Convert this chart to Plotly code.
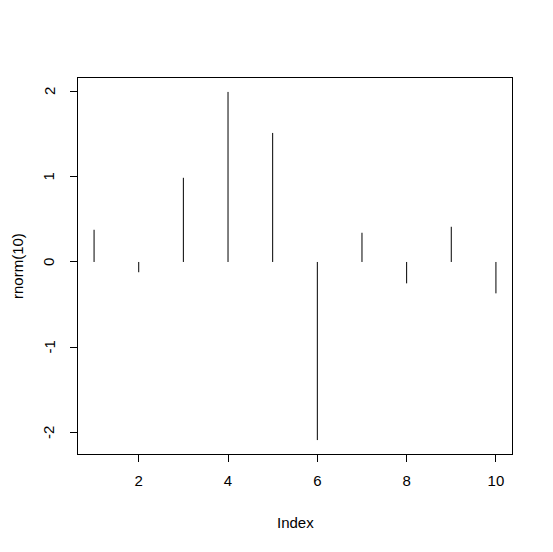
import plotly.graph_objects as go

index = list(range(1, 11))
values = [0.377, -0.12, 0.985, 1.99, 1.51, -2.084, 0.342, -0.25, 0.412, -0.367]
x_ticks = [2, 4, 6, 8, 10]
y_ticks = [-2, -1, 0, 1, 2]

xs, ys = [], []
for i, v in zip(index, values):
    xs += [i, i, None]
    ys += [0, v, None]

font = dict(family="Liberation Sans, Arial, sans-serif", size=15, color="black")

fig = go.Figure(go.Scatter(x=xs, y=ys, mode="lines",
                           line=dict(color="black", width=1), hoverinfo="skip"))

vmin, vmax = min(values), max(values)
pad = 0.04 * (vmax - vmin)
xpad = 0.04 * (max(index) - min(index))

axis_common = dict(showgrid=False, zeroline=False, showline=True, linecolor="black",
                   linewidth=1, mirror=True, ticks="outside", ticklen=7,
                   tickcolor="black", tickwidth=1, tickfont=font)

annotations = [
    dict(text="Index", xref="paper", yref="paper", x=0.5, y=0, yanchor="middle",
         yshift=-68, showarrow=False, font=font),
    dict(text="rnorm(10)", xref="paper", yref="paper", x=0, y=0.5, xanchor="center",
         xshift=-61, textangle=-90, showarrow=False, font=font),
]
for t in y_ticks:
    annotations.append(dict(text=str(t), xref="paper", yref="y", x=0, y=t,
                            xanchor="center", yanchor="middle", xshift=-29,
                            textangle=-90, showarrow=False, font=font))

# page body has an 8px margin, so offsets are compensated
fig.update_layout(
    width=545, height=544,
    margin=dict(l=70, r=41, t=70, b=98),
    paper_bgcolor="white", plot_bgcolor="white",
    showlegend=False,
    xaxis=dict(range=[min(index) - xpad, max(index) + xpad], tickvals=x_ticks,
               ticklabelstandoff=6, **axis_common),
    yaxis=dict(range=[vmin - pad, vmax + pad], tickvals=y_ticks,
               showticklabels=False, **axis_common),
    annotations=annotations,
)

fig.write_html("out.html")
